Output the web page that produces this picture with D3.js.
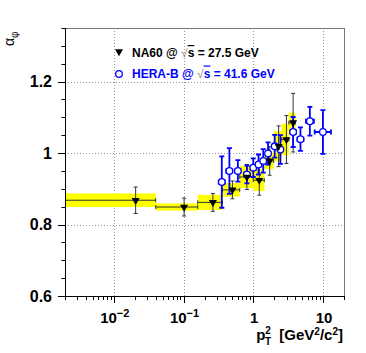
<!DOCTYPE html>
<html>
<head>
<meta charset="utf-8">
<script src="https://cdn.jsdelivr.net/npm/d3@7"></script>
<style>
  html, body { margin: 0; padding: 0; background: #fff; }
  text { font-family: "Liberation Sans", Arial, Helvetica, sans-serif; }
</style>
</head>
<body>
<script>
// NA60 (pT^2 bins, mean pT^2, alpha_phi, stat and syst errors)
const naX = [0.0206, 0.102, 0.264, 0.503, 0.811, 1.22, 1.72, 2.31, 2.99, 3.73];
const naLo = [0, 0.04, 0.16, 0.36, 0.64, 1.0, 1.44, 1.96, 2.56, 3.24];
const naHi = [0.04, 0.16, 0.36, 0.64, 1.0, 1.44, 1.96, 2.56, 3.24, 4.0];
const naY = [0.868, 0.849, 0.862, 0.897, 0.933, 0.924, 0.978, 1.019, 1.038, 1.085];
const naStat = [0.037, 0.025, 0.025, 0.025, 0.035, 0.042, 0.040, 0.057, 0.067, 0.082];
const naSys = [0.019, 0.010, 0.021, 0.019, 0.031, 0.030, 0.023, 0.042, 0.044, 0.028];

// HERA-B
const hbX = [0.354, 0.455, 0.602, 0.811, 1.0, 1.19, 1.39, 1.63, 2.03, 2.45, 3.73, 4.75, 6.48, 9.97];
const hbXLo = [0.32, 0.41, 0.55, 0.74, 0.92, 1.10, 1.29, 1.51, 1.88, 2.27, 3.40, 4.30, 5.7, 7.6];
const hbXHi = [0.39, 0.50, 0.66, 0.89, 1.09, 1.29, 1.50, 1.76, 2.19, 2.65, 4.10, 5.25, 7.4, 13.0];
const hbY = [0.919, 0.950, 0.950, 0.940, 0.959, 0.968, 0.978, 0.999, 1.019, 1.010, 1.059, 1.039, 1.089, 1.059];
const hbErr = [0.072, 0.064, 0.030, 0.025, 0.026, 0.028, 0.033, 0.031, 0.032, 0.040, 0.042, 0.033, 0.040, 0.061];

// Axes
const xDomain = [0.002, 20];
const yDomain = [0.6, 1.35];
const xMajor = [0.01, 0.1, 1, 10];
const xMajorLabels = [["10", "\u22122"], ["10", "\u22121"], ["1", ""], ["10", ""]];
const yMajor = [0.6, 0.8, 1.0, 1.2];
const yMajorLabels = ["0.6", "0.8", "1", "1.2"];

// Layout
const width = 366;
const height = 353;
const pl = 65, pr = 344, pt = 28, pb = 296;
const blue = "#0000ff";
const yellow = "#ffff00";

const x = d3.scaleLog().domain(xDomain).range([pl, pr]);
const y = d3.scaleLinear().domain(yDomain).range([pb, pt]);
const cx = v => x(Math.max(v, xDomain[0]));

const svg = d3.create("svg")
    .attr("width", width)
    .attr("height", height)
    .attr("viewBox", [0, 0, width, height]);

// Grid
const grid = svg.append("g")
    .attr("stroke", "#999")
    .attr("stroke-width", 1)
    .attr("stroke-dasharray", "1,2");
grid.selectAll(".gx").data(xMajor).join("line")
    .attr("x1", d => Math.round(x(d)) + 0.5).attr("x2", d => Math.round(x(d)) + 0.5)
    .attr("y1", pt).attr("y2", pb);
grid.selectAll(".gy").data(yMajor.slice(1)).join("line")
    .attr("y1", d => Math.round(y(d)) + 0.5).attr("y2", d => Math.round(y(d)) + 0.5)
    .attr("x1", pl).attr("x2", pr);

// Systematic boxes
const na = naX.map((d, i) => ({x: d, lo: naLo[i], hi: naHi[i], y: naY[i], stat: naStat[i], sys: naSys[i]}));
svg.append("g").selectAll("rect").data(na).join("rect")
    .attr("x", d => cx(d.lo))
    .attr("width", d => cx(d.hi) - cx(d.lo))
    .attr("y", d => y(d.y + d.sys))
    .attr("height", d => y(d.y - d.sys) - y(d.y + d.sys))
    .attr("fill", yellow);

// NA60 error bars
const naBars = svg.append("g").attr("stroke", "#333").attr("stroke-width", 1).attr("fill", "none");
naBars.selectAll("path").data(na).join("path")
    .attr("d", d => {
      const px = x(d.x), py = y(d.y);
      const y1 = y(d.y + d.stat), y2 = y(d.y - d.stat);
      const x1 = cx(d.lo), x2 = cx(d.hi);
      return `M${px},${y1}V${y2}M${px - 2},${y1}H${px + 2}M${px - 2},${y2}H${px + 2}` +
        `M${x1},${py}H${x2}M${x2},${py - 2}V${py + 2}` + (d.lo > xDomain[0] ? `M${x1},${py - 2}V${py + 2}` : "");
    });

// HERA-B points
const hb = hbX.map((d, i) => ({x: d, lo: hbXLo[i], hi: hbXHi[i], y: hbY[i], err: hbErr[i]}));
const hbG = svg.append("g");
hbG.selectAll("path").data(hb).join("path")
    .attr("stroke", blue).attr("stroke-width", 1.8).attr("fill", "none")
    .attr("d", d => {
      const px = x(d.x), py = y(d.y);
      const y1 = y(d.y + d.err), y2 = y(d.y - d.err);
      const x1 = x(d.lo), x2 = x(d.hi);
      return `M${px},${y1}V${y2}M${px - 2.5},${y1}H${px + 2.5}M${px - 2.5},${y2}H${px + 2.5}` +
        `M${x1},${py}H${x2}M${x1},${py - 2.5}V${py + 2.5}M${x2},${py - 2.5}V${py + 2.5}`;
    });
hbG.selectAll("circle").data(hb).join("circle")
    .attr("cx", d => x(d.x)).attr("cy", d => y(d.y)).attr("r", 3.3)
    .attr("fill", "#fff").attr("stroke", blue).attr("stroke-width", 1.3);

// NA60 markers
const tri = d3.symbol().type(d3.symbolTriangle).size(28);
svg.append("g").selectAll("path").data(na).join("path")
    .attr("d", tri)
    .attr("transform", d => `translate(${x(d.x)},${y(d.y)}) rotate(180)`)
    .attr("fill", "#000");

// Frame
svg.append("rect")
    .attr("x", pl + 0.5).attr("y", pt + 0.5)
    .attr("width", pr - pl).attr("height", pb - pt)
    .attr("fill", "none").attr("stroke", "#777");
svg.append("path")
    .attr("d", `M${pl + 0.5},${pt}V${pb + 0.5}H${pr + 1}`)
    .attr("stroke", "#000").attr("fill", "none");

// Y ticks
const yMinor = d3.range(0.6, 1.351, 0.05);
svg.append("g").attr("stroke", "#000").selectAll("line").data(yMinor).join("line")
    .attr("x1", d => yMajor.some(m => Math.abs(m - d) < 1e-6) ? pl - 7 : pl - 3.5)
    .attr("x2", pl)
    .attr("y1", d => Math.round(y(d)) + 0.5).attr("y2", d => Math.round(y(d)) + 0.5);
svg.append("g").selectAll("text").data(yMajor).join("text")
    .attr("x", 52).attr("y", d => y(d) + 5.5)
    .attr("text-anchor", "end")
    .attr("font-size", 16).attr("font-weight", "bold")
    .text((d, i) => yMajorLabels[i]);

// X ticks (log)
const xTicks = [];
for (let e = -3; e <= 1; e++) {
  for (let m = 1; m <= 9; m++) {
    const v = m * Math.pow(10, e);
    if (v >= xDomain[0] && v <= xDomain[1]) xTicks.push({v, major: m === 1});
  }
}
svg.append("g").attr("stroke", "#000").selectAll("line").data(xTicks).join("line")
    .attr("x1", d => Math.round(x(d.v)) + 0.5).attr("x2", d => Math.round(x(d.v)) + 0.5)
    .attr("y1", pb).attr("y2", d => d.major ? pb + 7 : pb + 4);
const xl = svg.append("g").selectAll("text").data(xMajor).join("text")
    .attr("x", d => x(d) + 1)
    .attr("y", 323)
    .attr("text-anchor", "middle")
    .attr("font-size", 15).attr("font-weight", "bold");
xl.append("tspan").text((d, i) => xMajorLabels[i][0]);
xl.append("tspan").attr("dy", -6).attr("font-size", 11).text((d, i) => xMajorLabels[i][1]);

// X title
const xt = svg.append("text")
    .attr("x", 343).attr("y", 340)
    .attr("text-anchor", "end")
    .attr("font-size", 15).attr("font-weight", "bold");
xt.append("tspan").text("p");
xt.append("tspan").attr("font-size", 10).attr("dy", -6).text("2");
xt.append("tspan").attr("font-size", 10).attr("dy", 11).attr("dx", -6).text("T");
xt.append("tspan").attr("dy", -5).text("\u00a0 [GeV");
xt.append("tspan").attr("font-size", 10).attr("dy", -5).text("2");
xt.append("tspan").attr("dy", 5).text("/c");
xt.append("tspan").attr("font-size", 10).attr("dy", -5).text("2");
xt.append("tspan").attr("dy", 5).text("]");

// Y title
const yt = svg.append("text")
    .attr("transform", "translate(13.5,46) rotate(-90)")
    .attr("font-size", 14);
yt.append("tspan").text("\u03b1");
yt.append("tspan").attr("font-size", 10).attr("dy", 4).text("\u03c6");

// Legend
const legend = [
  {label: "NA60 @ ", energy: "27.5 GeV", color: "#000", y: 57},
  {label: "HERA-B @ ", energy: "41.6 GeV", color: blue, y: 77.5}
];
svg.append("path")
    .attr("d", tri)
    .attr("transform", `translate(119,51.5) rotate(180)`)
    .attr("fill", "#000");
svg.append("circle")
    .attr("cx", 119).attr("cy", 74).attr("r", 3.3)
    .attr("fill", "#fff").attr("stroke", blue).attr("stroke-width", 1.3);
legend.forEach(l => {
  const t = svg.append("text")
      .attr("x", 132).attr("y", l.y)
      .attr("font-size", 12).attr("font-weight", "bold")
      .attr("fill", l.color);
  t.append("tspan").text(l.label);
  t.append("tspan").attr("font-weight", "normal").attr("fill", "#888").text("\u221a");
  t.append("tspan").attr("style", "text-decoration: overline").text("s");
  t.append("tspan").text(" = " + l.energy);
});

document.body.appendChild(svg.node());
</script>
</body>
</html>
